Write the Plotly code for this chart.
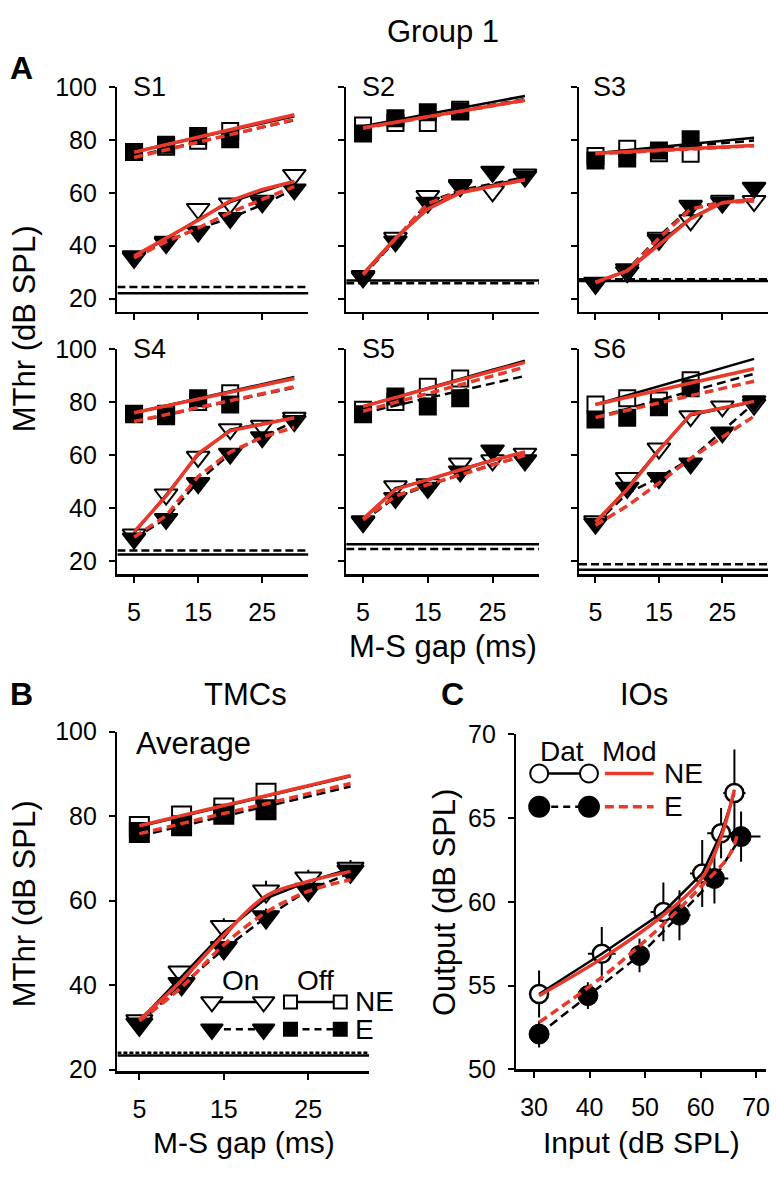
import plotly.graph_objects as go

W, H = 776, 1177
FONT = "Liberation Sans"

# ---------------- data ----------------
gaps = [5, 10, 15, 20, 25, 30]
off_gaps = [5, 10, 15, 20]
gap_ticks = [5, 15, 25]
mthr_ticks = [20, 40, 60, 80, 100]
panel_names = ["S1", "S2", "S3", "S4", "S5", "S6"]

# S1
s1_off_ne = [75.5, 77.5, 79.7, 83.4]
s1_off_e = [75.5, 78.2, 81.5, 80.3]
s1_on_ne = [36.0, 41.5, 53.9, 56.0, 57.0, 66.8]
s1_on_e = [35.4, 41.0, 45.3, 50.5, 56.4, 61.3]
s1_fit_off_ne = [75.6, 78.3, 81.0, 83.7, 86.4, 89.0]
s1_fit_off_e = [73.8, 76.6, 79.3, 82.0, 84.8, 87.5]
s1_fit_on_ne = [36.0, 42.5, 50.0, 56.5, 60.5, 64.5]
s1_fit_on_e = [35.5, 41.5, 46.5, 50.5, 55.5, 61.5]
s1_mod_off_ne = [75.4, 78.2, 81.1, 83.9, 86.8, 89.6]
s1_mod_off_e = [73.4, 76.3, 79.2, 82.0, 84.9, 87.8]
s1_mod_on_ne = [36.1, 42.8, 49.6, 57.0, 61.3, 64.3]
s1_mod_on_e = [35.4, 41.5, 46.7, 52.6, 57.5, 62.4]
s1_thr = [22.0, 24.4]

# S2
s2_off_ne = [85.5, 86.5, 86.5, 91.5]
s2_off_e = [82.5, 88.3, 90.5, 90.8]
s2_on_ne = [28.5, 43.0, 58.8, 63.0, 60.6, 67.0]
s2_on_e = [28.0, 41.6, 56.3, 62.5, 68.0, 66.2]
s2_fit_off_ne = [85.2, 87.5, 89.8, 92.1, 94.4, 96.7]
s2_fit_off_e = [84.7, 86.9, 89.0, 91.2, 93.4, 95.5]
s2_fit_on_ne = [29.0, 42.5, 54.5, 60.5, 63.0, 65.5]
s2_fit_on_e = [28.5, 42.0, 56.5, 61.0, 63.5, 66.0]
s2_mod_off_ne = [84.7, 86.8, 88.9, 91.0, 93.1, 95.1]
s2_mod_off_e = [84.5, 86.7, 88.8, 90.9, 93.0, 95.0]
s2_mod_on_ne = [29.3, 42.8, 53.9, 60.0, 62.5, 65.0]
s2_mod_on_e = [29.0, 42.5, 56.0, 60.5, 62.5, 65.0]
s2_thr = [26.8, 25.8]

# S3
s3_off_ne = [74.0, 76.7, 75.0, 74.8]
s3_off_e = [72.3, 73.0, 76.0, 80.3]
s3_on_ne = [26.0, 30.0, 43.0, 49.6, 57.0, 56.9]
s3_on_e = [25.6, 31.1, 42.2, 55.1, 56.3, 61.9]
s3_fit_off_ne = [75.0, 76.2, 77.4, 78.5, 79.7, 80.9]
s3_fit_off_e = [74.8, 75.8, 76.8, 77.8, 78.8, 79.8]
s3_fit_on_ne = [26.0, 30.5, 41.0, 50.5, 56.5, 57.5]
s3_fit_on_e = [25.8, 30.8, 43.5, 54.5, 56.5, 57.0]
s3_mod_off_ne = [75.0, 75.6, 76.2, 76.7, 77.3, 77.9]
s3_mod_off_e = [74.8, 75.4, 76.0, 76.6, 77.2, 77.8]
s3_mod_on_ne = [26.2, 30.5, 40.3, 50.2, 56.3, 57.6]
s3_mod_on_e = [26.0, 30.5, 42.8, 53.9, 56.3, 56.9]
s3_thr = [26.6, 27.3]

# S4
s4_off_ne = [75.5, 75.5, 80.0, 83.3]
s4_off_e = [75.3, 74.6, 81.4, 79.0]
s4_on_ne = [30.0, 45.1, 59.3, 69.7, 71.0, 74.0]
s4_on_e = [28.5, 35.9, 49.4, 60.5, 66.7, 72.8]
s4_fit_off_ne = [75.9, 78.6, 81.3, 84.0, 86.7, 89.4]
s4_fit_off_e = [72.4, 75.0, 77.6, 80.2, 82.8, 85.4]
s4_fit_on_ne = [30.5, 45.0, 60.0, 69.5, 71.8, 74.0]
s4_fit_on_e = [28.5, 36.0, 50.0, 60.5, 67.0, 72.5]
s4_mod_off_ne = [75.9, 78.5, 81.1, 83.6, 86.2, 88.8]
s4_mod_off_e = [72.6, 75.2, 77.8, 80.4, 83.1, 85.7]
s4_mod_on_ne = [31.0, 44.5, 60.5, 69.1, 71.6, 74.0]
s4_mod_on_e = [29.0, 37.1, 51.9, 61.1, 66.7, 70.4]
s4_thr = [22.5, 24.0]

# S5
s5_off_ne = [77.0, 80.0, 85.7, 88.8]
s5_off_e = [75.3, 82.0, 78.3, 81.4]
s5_on_ne = [35.0, 48.2, 49.0, 56.8, 58.0, 60.5]
s5_on_e = [34.7, 43.8, 47.6, 53.8, 61.7, 58.0]
s5_fit_off_ne = [78.3, 81.8, 85.2, 88.6, 92.1, 95.5]
s5_fit_off_e = [75.8, 78.6, 81.4, 84.2, 87.0, 89.8]
s5_fit_on_ne = [35.5, 47.5, 50.5, 54.5, 58.0, 61.0]
s5_fit_on_e = [35.0, 44.0, 48.5, 52.5, 56.5, 59.5]
s5_mod_off_ne = [78.3, 81.6, 84.9, 88.3, 91.6, 94.9]
s5_mod_off_e = [76.5, 79.8, 83.2, 86.5, 89.8, 93.1]
s5_mod_on_ne = [35.9, 47.0, 50.7, 54.4, 58.0, 61.1]
s5_mod_on_e = [35.5, 44.5, 48.8, 52.5, 56.2, 59.9]
s5_thr = [26.3, 24.6]

# S6
s6_off_ne = [79.0, 81.4, 80.5, 88.2]
s6_off_e = [73.4, 74.0, 78.0, 85.1]
s6_on_ne = [35.0, 51.3, 62.4, 74.6, 78.3, 79.0]
s6_on_e = [34.1, 47.6, 51.3, 56.8, 68.5, 80.2]
s6_fit_off_ne = [79.0, 82.4, 85.9, 89.3, 92.8, 96.2]
s6_fit_off_e = [74.1, 77.4, 80.7, 84.0, 87.3, 90.6]
s6_fit_on_ne = [34.5, 47.5, 62.0, 75.0, 77.5, 80.0]
s6_fit_on_e = [34.0, 45.5, 51.5, 58.5, 69.0, 79.5]
s6_mod_off_ne = [79.0, 81.7, 84.4, 87.1, 89.8, 92.5]
s6_mod_off_e = [74.1, 76.8, 79.6, 82.3, 85.1, 87.8]
s6_mod_on_ne = [34.7, 47.0, 61.7, 75.3, 77.7, 80.2]
s6_mod_on_e = [33.5, 40.8, 49.4, 58.7, 66.7, 74.6]
s6_thr = [16.7, 18.8]

# B: average
avg_off_ne = [77.5, 80.0, 81.9, 85.4]
avg_off_e = [76.1, 77.7, 80.4, 81.5]
avg_on_ne = [31.5, 43.0, 53.8, 62.2, 65.3, 67.6]
avg_on_e = [30.7, 40.3, 48.8, 56.1, 62.6, 66.9]
avg_err_off_ne = [1.0, 1.0, 1.5, 1.5]
avg_err_off_e = [1.0, 1.0, 1.0, 1.0]
avg_err_on_ne = [1.5, 1.5, 2.0, 2.5, 2.0, 2.0]
avg_err_on_e = [1.5, 1.5, 1.5, 2.0, 2.0, 1.5]
avg_fit_off_ne = [77.5, 79.9, 82.3, 84.6, 87.0, 89.4]
avg_fit_off_e = [75.3, 77.6, 79.9, 82.2, 84.6, 87.0]
avg_fit_on_ne = [31.5, 42.0, 52.5, 60.5, 64.5, 67.5]
avg_fit_on_e = [31.0, 40.0, 48.5, 56.0, 62.5, 66.5]
avg_mod_off_ne = [77.7, 80.1, 82.5, 84.8, 87.2, 89.6]
avg_mod_off_e = [75.8, 78.2, 80.6, 82.9, 85.3, 87.7]
avg_mod_on_ne = [31.8, 41.1, 51.8, 61.1, 64.5, 66.9]
avg_mod_on_e = [31.5, 39.5, 49.5, 57.2, 62.2, 64.9]
avg_thr = [23.3, 24.0]

# C: input/output functions
io_in_ne = [30.9, 42.2, 53.3, 60.3, 63.7, 66.1]
io_out_ne = [54.5, 56.9, 59.4, 61.7, 64.1, 66.5]
io_xerr_ne = [0.8, 2.5, 2.3, 2.2, 2.5, 2.0]
io_yerr_ne = [1.4, 1.6, 1.75, 2.0, 1.5, 2.6]
io_in_e = [30.9, 39.7, 49.0, 56.2, 62.5, 67.3]
io_out_e = [52.1, 54.4, 56.8, 59.2, 61.4, 63.9]
io_xerr_e = [0.8, 1.2, 1.5, 2.0, 2.5, 3.5]
io_yerr_e = [0.8, 0.8, 1.0, 1.5, 1.5, 1.5]
io_mod_in_ne = [30.9, 42.6, 52.1, 59.8, 63.4, 66.1]
io_mod_out_ne = [54.4, 56.7, 58.9, 61.2, 63.6, 66.7]
io_mod_in_e = [30.9, 42.6, 52.1, 60.5, 65.2, 66.8]
io_mod_out_e = [52.8, 55.6, 58.3, 61.05, 62.8, 64.2]
in_ticks = [30, 40, 50, 60, 70]
out_ticks = [50, 55, 60, 65, 70]

# ------------- assemble per-panel tables -------------
def pack(p):
    g = globals()
    return {k: g[f"{p}_{k}"] for k in [
        "off_ne", "off_e", "on_ne", "on_e",
        "fit_off_ne", "fit_off_e", "fit_on_ne", "fit_on_e",
        "mod_off_ne", "mod_off_e", "mod_on_ne", "mod_on_e", "thr"]}

panels = [pack(p) for p in ["s1", "s2", "s3", "s4", "s5", "s6"]]
avg = pack("avg")

# ------------- layout geometry (pixels) -------------
def fx(p): return p / W
def fy(p): return 1 - p / H

A_XDOM = [(118, 310), (348, 542), (582, 772)]
A_YDOM = [(75, 305), (343, 574)]
B_XDOM, B_YDOM = (118, 371), (735, 1083)
C_XDOM, C_YDOM = (519, 770), (738, 1081)
GAP_RANGE = [2.4, 32.2]

RED = "#e8392b"
BLK = "black"
DASH = "9px,5px"

fig = go.Figure()


def tmc_traces(ax, d, sq, tri, errs=None):
    xa, ya = f"x{ax}", f"y{ax}"
    common = dict(xaxis=xa, yaxis=ya, showlegend=False, hoverinfo="skip")
    fig.add_trace(go.Scatter(x=GAP_RANGE, y=[d["thr"][0]] * 2, mode="lines",
                             line=dict(color=BLK, width=2.5), **common))
    fig.add_trace(go.Scatter(x=GAP_RANGE, y=[d["thr"][1]] * 2, mode="lines",
                             line=dict(color=BLK, width=2.5,
                                       dash="4px,2px" if errs else "8px,4px"), **common))

    def mk(x, y, sym, size, fill, err):
        eb = None
        if err is not None:
            eb = dict(type="data", array=err, color=BLK, thickness=2, width=0)
        fig.add_trace(go.Scatter(x=x, y=y, mode="markers", error_y=eb,
                                 marker=dict(symbol=sym, size=size, color=fill,
                                             line=dict(color=BLK, width=2)), **common))
    e = errs or {}
    mk(off_gaps, d["off_ne"], "square", sq, "white", e.get("off_ne"))
    mk(gaps, d["on_ne"], "triangle-down", tri, "white", e.get("on_ne"))
    mk(off_gaps, d["off_e"], "square", sq, BLK, e.get("off_e"))
    mk(gaps, d["on_e"], "triangle-down", tri, BLK, e.get("on_e"))
    for key, dash in [("fit_off_ne", "solid"), ("fit_off_e", DASH),
                      ("fit_on_ne", "solid"), ("fit_on_e", DASH)]:
        fig.add_trace(go.Scatter(x=gaps, y=d[key], mode="lines",
                                 line=dict(color=BLK, width=2.5, dash=dash), **common))
    for key, dash in [("mod_off_e", DASH), ("mod_on_e", DASH),
                      ("mod_off_ne", "solid"), ("mod_on_ne", "solid")]:
        fig.add_trace(go.Scatter(x=gaps, y=d[key], mode="lines",
                                 line=dict(color=RED, width=3.5, dash=dash,
                                           shape="spline" if errs else "linear"),
                                 **common))


for i, d in enumerate(panels):
    tmc_traces(i + 1, d, 16, 20)

tmc_traces(7, avg, 19, 23, errs=dict(off_ne=avg_err_off_ne, off_e=avg_err_off_e,
                                     on_ne=avg_err_on_ne, on_e=avg_err_on_e))

# Panel C
cc = dict(xaxis="x8", yaxis="y8", showlegend=False, hoverinfo="skip")
fig.add_trace(go.Scatter(x=io_in_ne, y=io_out_ne, mode="markers",
                         error_x=dict(type="data", array=io_xerr_ne, color=BLK, thickness=2, width=0),
                         error_y=dict(type="data", array=io_yerr_ne, color=BLK, thickness=2, width=0),
                         marker=dict(symbol="circle", size=18, color="white",
                                     line=dict(color=BLK, width=2.5)), **cc))
fig.add_trace(go.Scatter(x=io_in_e, y=io_out_e, mode="markers",
                         error_x=dict(type="data", array=io_xerr_e, color=BLK, thickness=2, width=0),
                         error_y=dict(type="data", array=io_yerr_e, color=BLK, thickness=2, width=0),
                         marker=dict(symbol="circle", size=20, color=BLK,
                                     line=dict(color=BLK, width=1)), **cc))
fig.add_trace(go.Scatter(x=io_in_ne, y=io_out_ne, mode="lines",
                         line=dict(color=BLK, width=2.5), **cc))
fig.add_trace(go.Scatter(x=io_in_e, y=io_out_e, mode="lines",
                         line=dict(color=BLK, width=2.5, dash=DASH), **cc))
fig.add_trace(go.Scatter(x=io_mod_in_e, y=io_mod_out_e, mode="lines",
                         line=dict(color=RED, width=3.5, dash=DASH, shape="spline"), **cc))
fig.add_trace(go.Scatter(x=io_mod_in_ne, y=io_mod_out_ne, mode="lines",
                         line=dict(color=RED, width=3.5, shape="spline"), **cc))

# ------------- legend glyphs on a pixel overlay axis -------------
pc = dict(xaxis="x9", yaxis="y9", showlegend=False, hoverinfo="skip")
def glyph_pair(xs, y, sym, size, fill, dash, lw=2.5):
    fig.add_trace(go.Scatter(x=xs, y=[y, y], mode="lines",
                             line=dict(color=BLK, width=lw, dash=dash), **pc))
    fig.add_trace(go.Scatter(x=xs, y=[y, y], mode="markers",
                             marker=dict(symbol=sym, size=size, color=fill,
                                         line=dict(color=BLK, width=2)), **pc))

glyph_pair([213, 265], 1012, "triangle-down", 19, "white", "solid")
glyph_pair([292, 342], 1012, "square", 13, "white", "solid")
glyph_pair([213, 265], 1040, "triangle-down", 19, BLK, "7px,5px")
glyph_pair([292, 342], 1040, "square", 13, BLK, "7px,5px")
glyph_pair([542, 592], 778, "circle", 18, "white", "solid")
glyph_pair([542, 592], 812, "circle", 20, BLK, "7px,5px")
fig.add_trace(go.Scatter(x=[608, 657], y=[778, 778], mode="lines",
                         line=dict(color=RED, width=3.5), **pc))
fig.add_trace(go.Scatter(x=[608, 657], y=[812, 812], mode="lines",
                         line=dict(color=RED, width=3.5, dash="9px,5px"), **pc))

# ------------- axes -------------
ax_style = dict(showline=True, linecolor=BLK, linewidth=2.5, ticks="outside",
                ticklen=6, tickwidth=2, tickcolor=BLK, showgrid=False, zeroline=False,
                tickfont=dict(family=FONT, size=25, color=BLK))
xs_style = dict(ax_style, ticklabelstandoff=8)
ys_style = dict(ax_style, ticklabelstandoff=7)
layout = {}
for i in range(6):
    r, c = divmod(i, 3)
    n = i + 1
    layout[f"xaxis{n}"] = dict(xs_style, domain=[fx(A_XDOM[c][0]), fx(A_XDOM[c][1])],
                               range=GAP_RANGE, tickvals=gap_ticks,
                               showticklabels=(r == 1), anchor=f"y{n}")
    layout[f"yaxis{n}"] = dict(ys_style, domain=[fy(A_YDOM[r][1]), fy(A_YDOM[r][0])],
                               range=[15, 100], tickvals=mthr_ticks,
                               showticklabels=(c == 0), anchor=f"x{n}")
layout["xaxis7"] = dict(xs_style, domain=[fx(B_XDOM[0]), fx(B_XDOM[1])], range=GAP_RANGE,
                        tickvals=gap_ticks, anchor="y7")
layout["yaxis7"] = dict(ys_style, domain=[fy(B_YDOM[1]), fy(B_YDOM[0])], range=[19.6, 100],
                        tickvals=mthr_ticks, anchor="x7")
layout["xaxis8"] = dict(xs_style, domain=[fx(C_XDOM[0]), fx(C_XDOM[1])], range=[26.8, 71.8],
                        tickvals=in_ticks, anchor="y8")
layout["yaxis8"] = dict(ys_style, domain=[fy(C_YDOM[1]), fy(C_YDOM[0])], range=[50, 70],
                        tickvals=out_ticks, anchor="x8")
layout["xaxis9"] = dict(domain=[0, 1], range=[0, W], visible=False, anchor="y9")
layout["yaxis9"] = dict(domain=[0, 1], range=[H, 0], visible=False, anchor="x9")

# ------------- text -------------
ann = []
def txt(s, x, y, size=31, bold=False, anchor="center", angle=0):
    ann.append(dict(text=f"<b>{s}</b>" if bold else s, x=fx(x), y=fy(y),
                    xref="paper", yref="paper", showarrow=False, xanchor=anchor,
                    yanchor="middle", textangle=angle,
                    font=dict(family=FONT, size=size, color=BLK)))

txt("Group 1", 445, 18)
txt("A", 22, 55, size=32, bold=True)
txt("B", 22, 697, size=32, bold=True)
txt("C", 455, 697, size=32, bold=True)
label_pos = [(132, 75), (362, 75), (594, 75), (132, 343), (362, 343), (594, 343)]
for name, (x, y) in zip(panel_names, label_pos):
    txt(name, x, y, size=27, anchor="left")
txt("M-S gap (ms)", 445, 648)
txt("MThr (dB SPL)", 24, 322, angle=-90)
txt("TMCs", 247, 697)
txt("Average", 135, 747, anchor="left")
txt("MThr (dB SPL)", 24, 911, angle=-90)
txt("M-S gap (ms)", 245, 1156, size=30)
txt("IOs", 647, 697)
txt("Output (dB SPL)", 447, 910, angle=-90)
txt("Input (dB SPL)", 645, 1156, size=30)
txt("On", 242, 990, size=28)
txt("Off", 317, 990, size=28)
txt("NE", 355, 1012, size=28, anchor="left")
txt("E", 355, 1040, size=28, anchor="left")
txt("Dat", 565, 755, size=28)
txt("Mod", 632, 755, size=28)
txt("NE", 665, 778, size=28, anchor="left")
txt("E", 665, 812, size=28, anchor="left")

fig.update_layout(width=W, height=H, margin=dict(l=0, r=0, t=0, b=0),
                  paper_bgcolor="white", plot_bgcolor="rgba(0,0,0,0)",
                  hovermode=False, annotations=ann, **layout)
fig.write_html("out.html", config={"displayModeBar": False, "staticPlot": True},
               post_script="document.body.style.margin='0px';"
                           "document.body.style.overflow='hidden';")
